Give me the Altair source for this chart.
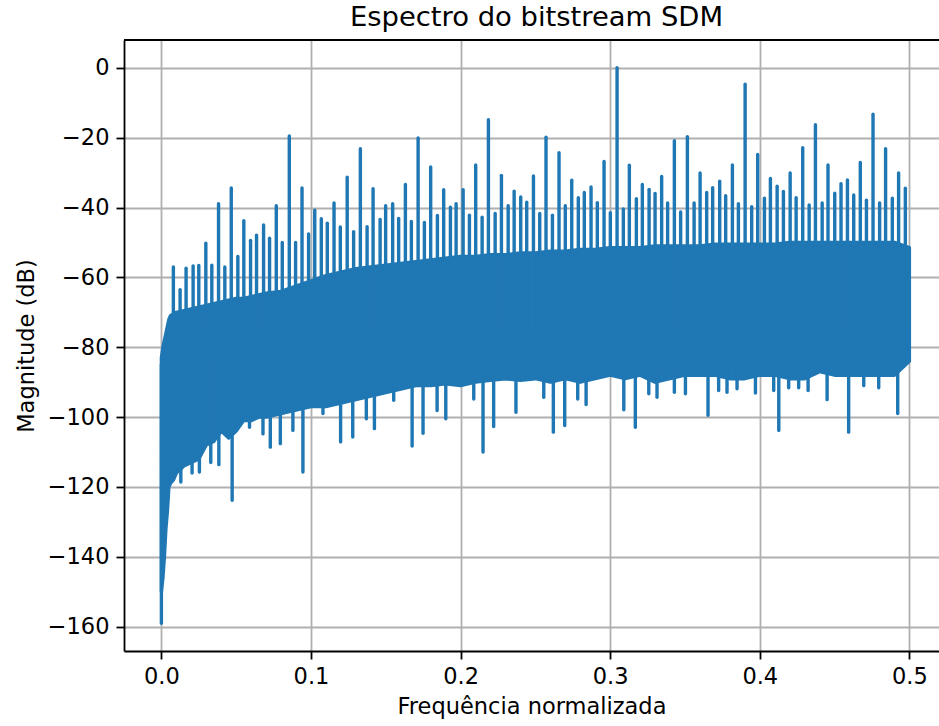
import altair as alt
import pandas as pd

# ---- data ----
band_f = [0.0, 0.001, 0.002, 0.003, 0.004, 0.005, 0.006, 0.008, 0.01, 0.015,
          0.02, 0.025, 0.03, 0.035, 0.04, 0.045, 0.05, 0.055, 0.06, 0.065,
          0.07, 0.08, 0.09, 0.1, 0.11, 0.12, 0.13, 0.14, 0.15, 0.16,
          0.17, 0.18, 0.19, 0.2, 0.21, 0.22, 0.23, 0.24, 0.25, 0.26,
          0.27, 0.28, 0.29, 0.3, 0.31, 0.32, 0.33, 0.34, 0.35, 0.36,
          0.37, 0.38, 0.39, 0.4, 0.41, 0.42, 0.43, 0.44, 0.45, 0.46,
          0.47, 0.48, 0.49, 0.5]
band_hi = [-83, -80, -78, -76, -74, -72, -71, -70.5, -70, -69.5,
           -69, -68.5, -68, -67.5, -67, -66.5, -66, -66, -65.5, -65,
           -64.5, -64, -62.5, -61, -59.5, -58.5, -57.5, -57, -56.5, -56,
           -55.5, -55, -54.5, -54, -54, -53.5, -53.5, -53, -53, -52.5,
           -52.5, -52, -52, -51.5, -51.5, -51.5, -51, -51, -51, -51,
           -50.5, -50.5, -50.5, -50.5, -50.5, -50, -50, -50, -50, -50,
           -50, -50, -50, -51.5]
band_lo = [-150, -146, -140, -132, -127, -120, -119, -118, -116, -114,
           -113, -112, -108, -107, -104, -106, -104, -101, -101, -100,
           -100, -99, -98, -97, -97, -96, -95, -94, -93, -92,
           -91, -91, -90.5, -91, -90, -89.5, -89, -89.5, -89, -90,
           -89, -90, -89, -88, -89, -88, -90, -89, -88, -88,
           -88, -89, -89, -88, -88, -89, -89, -87, -88, -88,
           -88, -88, -88, -84]

spike_f = [0.0080, 0.0125, 0.0165, 0.0212, 0.0250, 0.0297, 0.0337, 0.0382, 0.0424, 0.0467,
           0.0511, 0.0551, 0.0596, 0.0636, 0.0683, 0.0723, 0.0768, 0.0808, 0.0855, 0.0897,
           0.0940, 0.0984, 0.1025, 0.1069, 0.1109, 0.1154, 0.1196, 0.1242, 0.1285, 0.1330,
           0.1375, 0.1415, 0.1462, 0.1499, 0.1546, 0.1586, 0.1631, 0.1671, 0.1716, 0.1758,
           0.1800, 0.1845, 0.1887, 0.1932, 0.1970, 0.2017, 0.2059, 0.2101, 0.2144, 0.2186,
           0.2231, 0.2273, 0.2318, 0.2358, 0.2402, 0.2442, 0.2487, 0.2529, 0.2571, 0.2614,
           0.2658, 0.2700, 0.2743, 0.2787, 0.2827, 0.2872, 0.2914, 0.2959, 0.3001, 0.3046,
           0.3088, 0.3128, 0.3175, 0.3215, 0.3260, 0.3300, 0.3344, 0.3384, 0.3429, 0.3471,
           0.3516, 0.3561, 0.3601, 0.3645, 0.3685, 0.3732, 0.3772, 0.3817, 0.3857, 0.3902,
           0.3946, 0.3986, 0.4031, 0.4071, 0.4116, 0.4158, 0.4203, 0.4243, 0.4287, 0.4330,
           0.4372, 0.4417, 0.4456, 0.4501, 0.4543, 0.4586, 0.4628, 0.4672, 0.4713, 0.4757,
           0.4801, 0.4841, 0.4886, 0.4928, 0.4973]
spike_db = [-57, -63.5, -57.4, -56.7, -56.6, -50.2, -56.5, -38.9, -57, -34.4,
            -54, -43.8, -49.4, -47.9, -45, -48.8, -39.5, -50, -19.5, -50,
            -34.4, -47.6, -40.8, -43.2, -44.5, -38.7, -45.6, -31.3, -46.9, -23.2,
            -45.5, -34.6, -43.4, -39.5, -38.9, -43.1, -33.4, -44.0, -20.1, -44.3,
            -28.4, -42.3, -34.9, -39.9, -38.9, -34.9, -42.2, -27.8, -42.8, -14.9,
            -41.7, -30.8, -39.5, -35.3, -37.0, -38.5, -31.0, -41.7, -19.9, -42.2,
            -24.3, -39.5, -32.2, -37.2, -35.7, -34.1, -38.6, -26.8, -41.5, 0.0,
            -40.4, -27.9, -37.5, -33.4, -34.8, -36.0, -31.1, -38.7, -20.9, -41.3,
            -19.7, -38.7, -30.1, -35.7, -34.3, -32.5, -36.6, -27.8, -38.9, -4.7,
            -39.8, -24.8, -37.3, -31.7, -33.9, -35.4, -30.1, -37.2, -22.9, -39.3,
            -16.3, -38.7, -27.8, -35.9, -33.2, -32.1, -36.4, -27.1, -37.9, -13.3,
            -38.7, -23.2, -37.3, -30.1, -34.5]

dip_f = [0.0, 0.013, 0.0205, 0.0254, 0.033, 0.0384, 0.0473, 0.0589, 0.0679, 0.0728,
         0.0795, 0.0879, 0.0946, 0.108, 0.1198, 0.1279, 0.137, 0.1424, 0.1553, 0.1676,
         0.1749, 0.1843, 0.1901, 0.2088, 0.215, 0.2221, 0.237, 0.2556, 0.262, 0.2696,
         0.2783, 0.2839, 0.3091, 0.3168, 0.3258, 0.3313, 0.3429, 0.3503, 0.3654, 0.3725,
         0.3781, 0.3848, 0.3971, 0.4093, 0.4127, 0.4193, 0.426, 0.4323, 0.445, 0.4594,
         0.4695, 0.4795, 0.4922]
dip_db = [-159, -118.6, -116, -115.7, -113, -113.6, -123.8, -102.9, -104.8, -108.6,
          -107.6, -103.8, -115.7, -99, -107.1, -105.7, -100.5, -103.3, -95.2, -108.3,
          -104.6, -98.1, -100.5, -94.8, -110, -102.7, -98.6, -94.3, -104.3, -102.4,
          -94.8, -96.4, -97.9, -102.9, -93.3, -94.3, -92.9, -93.3, -99.5, -92.4,
          -92.9, -91.9, -93.1, -92.4, -103.8, -91.6, -91.6, -92.4, -95, -104.3,
          -91, -91.6, -99]

x_ticks = [0.0, 0.1, 0.2, 0.3, 0.4, 0.5]
y_ticks = [-160, -140, -120, -100, -80, -60, -40, -20, 0]

BLUE = "#1f77b4"
FONT = "DejaVu Sans"
LW = 3.4

band = pd.DataFrame({"f": band_f, "hi": band_hi, "lo": band_lo})
spikes = pd.DataFrame({"f": spike_f, "db": spike_db})
dips = pd.DataFrame({"f": dip_f, "db": dip_db})

W, H = 815, 611
xs = alt.Scale(domain=[-0.025, 0.5198], nice=False, zero=False)
ys = alt.Scale(domain=[-166.95, 7.95], nice=False, zero=False)

x_axis = alt.Axis(values=x_ticks, format=".1f", title="Frequência normalizada",
                  labelPadding=6, titlePadding=8)
y_axis = alt.Axis(values=y_ticks, format="d", title="Magnitude (dB)",
                  labelPadding=7, titlePadding=9)

X = alt.X("f:Q", scale=xs, axis=x_axis)

area = alt.Chart(band).mark_area(
    color=BLUE, stroke=BLUE, strokeWidth=LW, strokeJoin="round", opacity=1
).encode(
    x=X,
    y=alt.Y("hi:Q", scale=ys, axis=y_axis),
    y2="lo:Q",
)

spike_rules = alt.Chart(spikes).mark_rule(
    color=BLUE, strokeWidth=LW, strokeCap="round"
).encode(
    x=X,
    y=alt.Y("db:Q", scale=ys, axis=y_axis),
    y2=alt.datum(-75),
)

dip_rules = alt.Chart(dips).mark_rule(
    color=BLUE, strokeWidth=LW, strokeCap="round"
).encode(
    x=X,
    y=alt.Y("db:Q", scale=ys, axis=y_axis),
    y2=alt.datum(-85),
)

# top spine of the frame (right spine lies outside the picture in the reference)
top_spine = alt.Chart(band).mark_rule(color="black", strokeWidth=1.8).encode(
    x=alt.value(0), x2=alt.value(W), y=alt.value(0)
)

chart = alt.layer(area, spike_rules, dip_rules, top_spine).properties(
    width=W,
    height=H,
    background="white",
    title=alt.TitleParams("Espectro do bitstream SDM", font=FONT, fontSize=27.4,
                          fontWeight="normal", color="black", offset=8, dx=5),
    padding={"left": 124, "top": 40, "right": 0, "bottom": 75},
    autosize=alt.AutoSizeParams(type="none"),
).configure_view(
    strokeWidth=0
).configure_axis(
    grid=True, gridColor="#b0b0b0", gridWidth=1.8,
    domainColor="black", domainWidth=1.8,
    tickColor="black", tickWidth=1.8, tickSize=8,
    labelFont=FONT, labelFontSize=22.5, labelColor="black",
    titleFont=FONT, titleFontSize=22.5, titleFontWeight="normal", titleColor="black",
)

chart.save("out.html", embed_options={"renderer": "svg", "actions": False})
